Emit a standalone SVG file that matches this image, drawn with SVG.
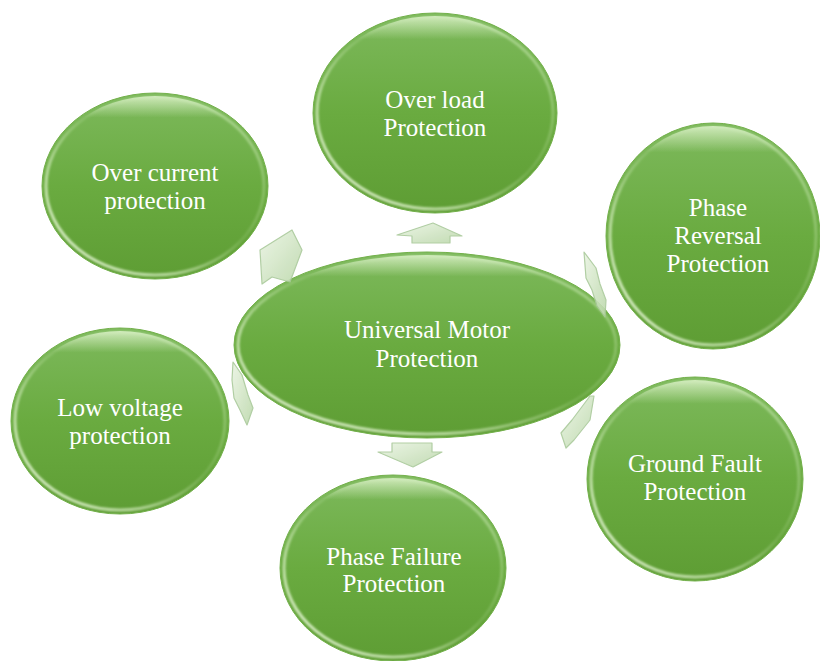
<svg xmlns="http://www.w3.org/2000/svg" width="820" height="661" viewBox="0 0 820 661">
  <defs>
    <!-- body fill of every disc: lighter green at the top, deeper below -->
    <linearGradient id="body" x1="0" y1="0" x2="0" y2="1">
      <stop offset="0" stop-color="#7db95c"/>
      <stop offset="0.5" stop-color="#6aab40"/>
      <stop offset="1" stop-color="#5e9d34"/>
    </linearGradient>
    <!-- glossy bevel rim, brightest at the lower left -->
    <linearGradient id="rim" x1="0" y1="1" x2="1" y2="0">
      <stop offset="0" stop-color="#f4ffe8" stop-opacity="0.95"/>
      <stop offset="0.3" stop-color="#e6f8d4" stop-opacity="0.6"/>
      <stop offset="0.55" stop-color="#c8e8b0" stop-opacity="0.15"/>
      <stop offset="0.8" stop-color="#d8f2c4" stop-opacity="0.35"/>
      <stop offset="1" stop-color="#eaffd8" stop-opacity="0.7"/>
    </linearGradient>
    <linearGradient id="topglow" x1="0" y1="0" x2="0" y2="1">
      <stop offset="0" stop-color="#e4f6d2" stop-opacity="0.8"/>
      <stop offset="0.12" stop-color="#e4f6d2" stop-opacity="0"/>
    </linearGradient>
    <!-- translucent pale arrows -->
    <linearGradient id="arrowFill" x1="0" y1="0" x2="1" y2="1">
      <stop offset="0" stop-color="#eaf4e3"/>
      <stop offset="1" stop-color="#bcd8ab"/>
    </linearGradient>
    <filter id="soft" x="-10%" y="-10%" width="120%" height="120%">
      <feGaussianBlur stdDeviation="0.8"/>
    </filter>
  </defs>
  <style>
    .disc { fill: url(#body); stroke: #72b04a; stroke-width: 1; }
    .rim { fill: none; stroke: url(#rim); stroke-width: 3; filter: url(#soft); }
    .glow { fill: url(#topglow); }
    .label { font-family: "Liberation Serif", "Times New Roman", serif; font-size: 25px; fill: #ffffff; text-anchor: middle; }
    .arrow { fill: url(#arrowFill); stroke: #a9c99a; stroke-width: 1.2; stroke-linejoin: round; }
  </style>

  <rect width="820" height="661" fill="#ffffff"/>

  <!-- hub -->
  <g id="hub">
    <ellipse class="disc" cx="427" cy="345" rx="193" ry="93"/>
    <ellipse class="glow" cx="427" cy="345" rx="190" ry="90"/>
    <ellipse class="rim" cx="427" cy="345" rx="189" ry="89"/>
    <text class="label" x="427" y="338">Universal Motor</text>
    <text class="label" x="427" y="367">Protection</text>
  </g>

  <g id="over-load">
    <ellipse class="disc" cx="435" cy="113" rx="122" ry="100"/>
    <ellipse class="glow" cx="435" cy="113" rx="119" ry="97"/>
    <ellipse class="rim" cx="435" cy="113" rx="118" ry="96"/>
    <text class="label" x="435" y="108">Over load</text>
    <text class="label" x="435" y="136">Protection</text>
  </g>

  <g id="over-current">
    <ellipse class="disc" cx="155" cy="186" rx="113" ry="93"/>
    <ellipse class="glow" cx="155" cy="186" rx="110" ry="90"/>
    <ellipse class="rim" cx="155" cy="186" rx="109" ry="89"/>
    <text class="label" x="155" y="181">Over current</text>
    <text class="label" x="155" y="209">protection</text>
  </g>

  <g id="phase-reversal">
    <ellipse class="disc" cx="713" cy="236" rx="107" ry="113"/>
    <ellipse class="glow" cx="713" cy="236" rx="104" ry="110"/>
    <ellipse class="rim" cx="713" cy="236" rx="103" ry="109"/>
    <text class="label" x="718" y="216">Phase</text>
    <text class="label" x="718" y="244">Reversal</text>
    <text class="label" x="718" y="272">Protection</text>
  </g>

  <g id="ground-fault">
    <ellipse class="disc" cx="695" cy="479" rx="108" ry="102"/>
    <ellipse class="glow" cx="695" cy="479" rx="105" ry="99"/>
    <ellipse class="rim" cx="695" cy="479" rx="104" ry="98"/>
    <text class="label" x="695" y="472">Ground Fault</text>
    <text class="label" x="695" y="500">Protection</text>
  </g>

  <g id="phase-failure">
    <ellipse class="disc" cx="393" cy="568" rx="113" ry="93"/>
    <ellipse class="glow" cx="393" cy="568" rx="110" ry="90"/>
    <ellipse class="rim" cx="393" cy="568" rx="109" ry="89"/>
    <text class="label" x="394" y="565">Phase Failure</text>
    <text class="label" x="394" y="592">Protection</text>
  </g>

  <g id="low-voltage">
    <ellipse class="disc" cx="120" cy="421" rx="109" ry="93"/>
    <ellipse class="glow" cx="120" cy="421" rx="106" ry="90"/>
    <ellipse class="rim" cx="120" cy="421" rx="105" ry="89"/>
    <text class="label" x="120" y="416">Low voltage</text>
    <text class="label" x="120" y="444">protection</text>
  </g>

  <!-- connectors: pale block arrows around the hub -->
  <g id="connectors" opacity="0.9">
    <polygon class="arrow" points="433,223 462,236 450,236 450,243 412,243 412,236 397,235"/>
    <polygon class="arrow" points="392,443 432,443 432,452 442,452 413,467 378,452 392,452"/>
    <polygon class="arrow" points="292,230 302,250 290,282 272,277 262,284 260,250 276,240"/>
    <polygon class="arrow" points="584,252 596,268 600,284 606,300 605,317 597,306 592,290 586,278"/>
    <polygon class="arrow" points="590,396 594,396 590,420 574,440 566,448 561,433 572,420"/>
    <polygon class="arrow" points="233,362 242,375 248,395 253,408 247,425 240,410 234,398 232,380"/>
  </g>
</svg>
